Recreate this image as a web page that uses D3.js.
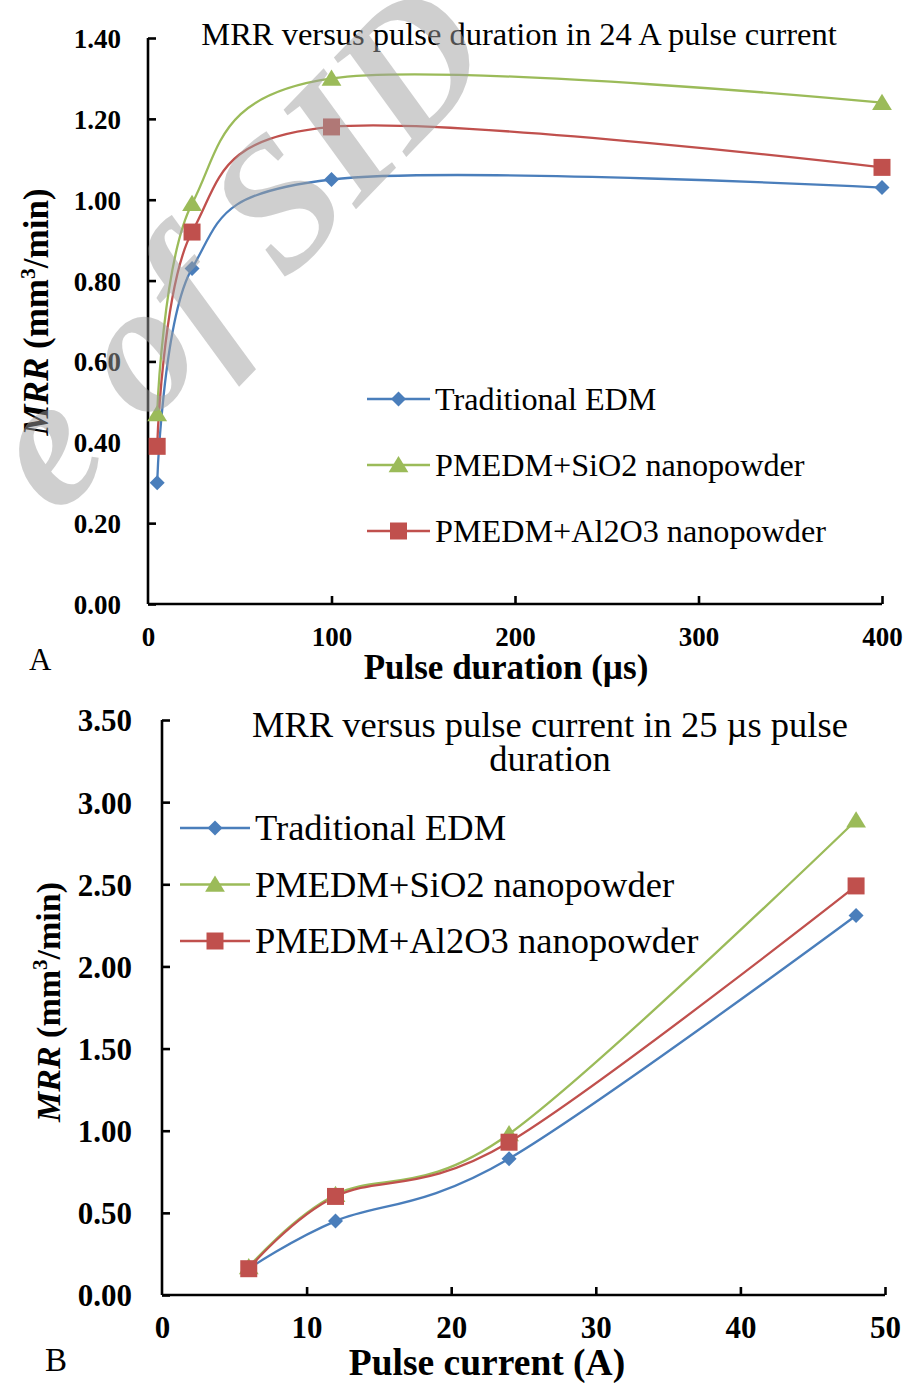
<!DOCTYPE html>
<html>
<head>
<meta charset="utf-8">
<script src="https://cdn.jsdelivr.net/npm/d3@7"></script>
<style>
  html, body { margin: 0; padding: 0; background: #fff; }
  svg { display: block; }
  text { font-family: "Liberation Serif", "Times New Roman", serif; fill: #000; }
</style>
</head>
<body>
<svg id="chart" width="917" height="1383"></svg>
<script>
// ---------- DATA ----------
const seriesNames = ["Traditional EDM", "PMEDM+SiO2 nanopowder", "PMEDM+Al2O3 nanopowder"];
const seriesColors = ["#4A7EBB", "#9BBB59", "#C0504D"];
const seriesShapes = ["diamond", "triangle", "square"];

// Chart A: MRR versus pulse duration (µs) at 24 A
const durationA = [5, 24, 100, 400];
const tradA  = [0.30, 0.83, 1.05, 1.03];
const sio2A  = [0.47, 0.99, 1.30, 1.24];
const al2o3A = [0.39, 0.92, 1.18, 1.08];
const xTicksA = [0, 100, 200, 300, 400];
const yTicksA = [0.00, 0.20, 0.40, 0.60, 0.80, 1.00, 1.20, 1.40];

// Chart B: MRR versus pulse current (A) at 25 µs
const currentB = [6, 12, 24, 48];
const tradB  = [0.16, 0.45, 0.83, 2.31];
const sio2B  = [0.17, 0.61, 0.98, 2.89];
const al2o3B = [0.16, 0.60, 0.93, 2.49];
const xTicksB = [0, 10, 20, 30, 40, 50];
const yTicksB = [0.00, 0.50, 1.00, 1.50, 2.00, 2.50, 3.00, 3.50];

// ---------- DRAW ----------
const svg = d3.select("#chart");

function markerPath(shape, s) {
  if (shape === "diamond") return `M0,${-s}L${s},0L0,${s}L${-s},0Z`;
  if (shape === "triangle") return `M0,${-s}L${s*1.1},${s*0.8}L${-s*1.1},${s*0.8}Z`;
  return `M${-s},${-s}H${s}V${s}H${-s}Z`;
}
const markerSize = { diamond: 7.5, triangle: 9, square: 8.5 };

function drawChart(cfg) {
  const g = svg.append("g");
  const x = d3.scaleLinear().domain(cfg.xDomain).range([cfg.left, cfg.right]);
  const y = d3.scaleLinear().domain(cfg.yDomain).range([cfg.bottom, cfg.top]);

  // y axis
  const yAxis = d3.axisLeft(y).tickValues(cfg.yTicks).tickSize(-cfg.tick).tickFormat(d3.format(".2f")).tickPadding(cfg.yPad);
  const ya = g.append("g").attr("transform", `translate(${cfg.left},0)`).call(yAxis);
  ya.attr("font-family", null);
  ya.select(".domain").attr("d", `M0,${cfg.top}V${cfg.bottom}`);
  ya.selectAll("path, line").attr("stroke", "#000").attr("stroke-width", 2.6);
  ya.selectAll("text").attr("dy", "0.35em")
    .style("font-size", cfg.tickFont + "px").style("font-weight", "bold");

  // x axis
  const xAxis = d3.axisBottom(x).tickValues(cfg.xTicks).tickSize(-cfg.tick).tickFormat(d3.format("d")).tickPadding(cfg.xPad);
  const xa = g.append("g").attr("transform", `translate(0,${cfg.bottom})`).call(xAxis);
  xa.attr("font-family", null);
  xa.select(".domain").attr("d", `M${cfg.left},0H${cfg.right}`);
  xa.selectAll("path, line").attr("stroke", "#000").attr("stroke-width", 2.6);
  xa.selectAll(".tick").filter(d => d === cfg.xTicks[0]).select("line").remove();
  xa.selectAll("text").attr("dy", "0.71em")
    .style("font-size", cfg.tickFont + "px").style("font-weight", "bold");

  // lines
  const line = d3.line().x(d => x(d[0])).y(d => y(d[1])).curve(d3.curveCardinal.tension(0));
  cfg.series.forEach((vals, i) => {
    const pts = cfg.xs.map((xv, j) => [xv, vals[j]]);
    g.append("path").attr("d", line(pts)).attr("fill", "none")
      .attr("stroke", seriesColors[i]).attr("stroke-width", 2.3);
  });
  cfg.series.forEach((vals, i) => {
    g.selectAll(null).data(cfg.xs.map((xv, j) => [xv, vals[j]])).enter().append("path")
      .attr("d", markerPath(seriesShapes[i], markerSize[seriesShapes[i]]))
      .attr("transform", d => `translate(${x(d[0])},${y(d[1])})`)
      .attr("fill", seriesColors[i]);
  });

  // legend
  const lg = g.append("g");
  seriesNames.forEach((name, i) => {
    const yy = cfg.legY + i * cfg.legGap;
    lg.append("line").attr("x1", cfg.legX).attr("x2", cfg.legX + cfg.legLen)
      .attr("y1", yy).attr("y2", yy).attr("stroke", seriesColors[i]).attr("stroke-width", 2.3);
    lg.append("path").attr("d", markerPath(seriesShapes[i], markerSize[seriesShapes[i]]))
      .attr("transform", `translate(${cfg.legX + cfg.legLen / 2},${yy})`).attr("fill", seriesColors[i]);
    lg.append("text").attr("x", cfg.legX + cfg.legLen + 5).attr("y", yy).attr("dy", "0.33em")
      .style("font-size", cfg.legFont + "px").text(name);
  });

  // title
  const t = g.append("text").attr("text-anchor", "middle").style("font-size", cfg.titleFont + "px");
  cfg.title.forEach((ln, i) => {
    t.append("tspan").attr("x", cfg.titleX).attr("y", cfg.titleY + i * cfg.titleGap).text(ln);
  });

  // x title
  g.append("text").attr("x", cfg.xTitleX).attr("y", cfg.xTitleY).attr("text-anchor", "middle")
    .style("font-size", cfg.xTitleFont + "px").style("font-weight", "bold").text(cfg.xTitle);

  // y title
  const yt = g.append("text").attr("transform", `translate(${cfg.yTitleX},${cfg.yTitleY}) rotate(-90)`)
    .attr("text-anchor", "middle").style("font-size", cfg.yTitleFont + "px").style("font-weight", "bold");
  yt.append("tspan").style("font-style", "italic").text("MRR");
  yt.append("tspan").text(" (mm");
  yt.append("tspan").attr("dy", -cfg.yTitleFont * 0.38).style("font-size", (cfg.yTitleFont * 0.62) + "px").text("3");
  yt.append("tspan").attr("dy", cfg.yTitleFont * 0.38).text("/min)");

  // panel letter
  g.append("text").attr("x", cfg.letterX).attr("y", cfg.letterY)
    .style("font-size", cfg.letterFont + "px").text(cfg.letter);
}

drawChart({
  left: 148, right: 882, top: 38, bottom: 604, tick: 8,
  xDomain: [0, 400], yDomain: [0, 1.4],
  xTicks: xTicksA, yTicks: yTicksA, xs: durationA,
  series: [tradA, sio2A, al2o3A],
  tickFont: 27, yPad: 27, xPad: 23,
  legX: 367, legLen: 63, legY: 399, legGap: 66, legFont: 32.2,
  title: ["MRR versus pulse duration in 24 A pulse current"], titleX: 519, titleY: 45, titleGap: 0, titleFont: 32.5,
  xTitle: "Pulse duration (µs)", xTitleX: 506, xTitleY: 679, xTitleFont: 35,
  yTitleX: 48, yTitleY: 312, yTitleFont: 35,
  letter: "A", letterX: 29, letterY: 670, letterFont: 31
});

drawChart({
  left: 162, right: 885, top: 720, bottom: 1295, tick: 8,
  xDomain: [0, 50], yDomain: [0, 3.5],
  xTicks: xTicksB, yTicks: yTicksB, xs: currentB,
  series: [tradB, sio2B, al2o3B],
  tickFont: 31, yPad: 30, xPad: 21,
  legX: 180, legLen: 70, legY: 828, legGap: 56.5, legFont: 36.5,
  title: ["MRR versus pulse current in 25 µs pulse", "duration"], titleX: 550, titleY: 737, titleGap: 34, titleFont: 36.5,
  xTitle: "Pulse current (A)", xTitleX: 487, xTitleY: 1375, xTitleFont: 37.5,
  yTitleX: 60, yTitleY: 1002, yTitleFont: 34,
  letter: "B", letterX: 45, letterY: 1371, letterFont: 33
});

// watermark (semi-transparent, on top like the source image)
svg.append("text")
  .attr("transform", "translate(500,60) rotate(-46)")
  .attr("text-anchor", "end")
  .attr("pointer-events", "none")
  .style("font-size", "185px")
  .style("font-style", "italic")
  .style("font-weight", "bold")
  .style("fill", "#a0a0a0")
  .style("fill-opacity", 0.5)
  .text("e of SID");
</script>
</body>
</html>
